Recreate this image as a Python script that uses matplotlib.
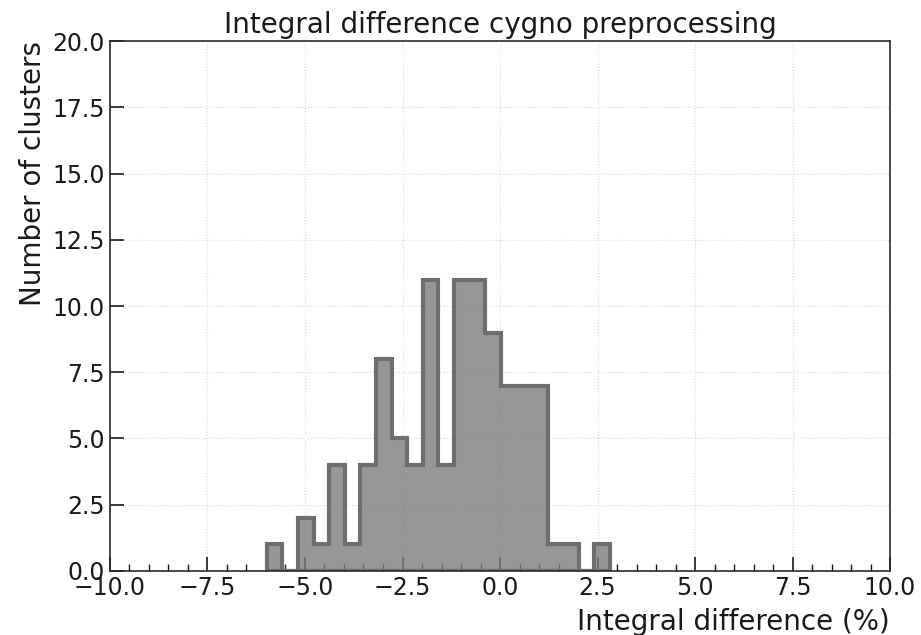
import numpy as np
import matplotlib
matplotlib.use("Agg")
import matplotlib.pyplot as plt
from matplotlib.ticker import MultipleLocator

# Histogram of integral differences (%) between cygno preprocessing outputs
bin_low = -5.98
bin_high = 2.82
n_bins = 22
counts = [1, 0, 2, 1, 4, 1, 4, 8, 5, 4, 11, 4, 11, 11, 9, 7, 7, 7, 1, 1, 0, 1]

edges = np.linspace(bin_low, bin_high, n_bins + 1)
centers = 0.5 * (edges[:-1] + edges[1:])

fig = plt.figure(figsize=(9.21, 6.35), dpi=100)
ax = fig.add_axes([0.1194, 0.1008, 0.8470, 0.8346])

ax.grid(True, linestyle=":", color="#d4d4d4", linewidth=0.8, zorder=0)
ax.set_axisbelow(True)

ax.hist(centers, bins=edges, weights=counts, histtype="stepfilled",
        facecolor=(0.49, 0.49, 0.49, 0.8), edgecolor="#6e6e6e", linewidth=3,
        zorder=2)

ax.set_xlim(-10, 10)
ax.set_ylim(0, 20)
ax.xaxis.set_major_locator(MultipleLocator(2.5))
ax.xaxis.set_minor_locator(MultipleLocator(0.5))
ax.yaxis.set_major_locator(MultipleLocator(2.5))
ax.xaxis.set_major_formatter(plt.FuncFormatter(lambda v, p: f"{v:.1f}".replace("-", "\u2212")))
ax.yaxis.set_major_formatter(plt.FuncFormatter(lambda v, p: f"{v:.1f}"))

ax.tick_params(axis="both", which="major", direction="in", length=10,
               width=1.2, labelsize=17, top=False, right=False,
               labelcolor="#1a1a1a", color="#1a1a1a")
ax.tick_params(axis="x", which="minor", direction="in", length=5, width=1,
               color="#1a1a1a")
ax.tick_params(axis="y", which="minor", left=False)

for s in ax.spines.values():
    s.set_color("#2a2a2a")
    s.set_linewidth(1.2)

ax.set_title("Integral difference cygno preprocessing", fontsize=20,
             color="#1a1a1a")
ax.set_xlabel("Integral difference (%)", fontsize=20, loc="right",
              color="#1a1a1a", labelpad=6)
ax.set_ylabel("Number of clusters", fontsize=20, loc="top", color="#1a1a1a")

fig.savefig("out.png", dpi=100)
